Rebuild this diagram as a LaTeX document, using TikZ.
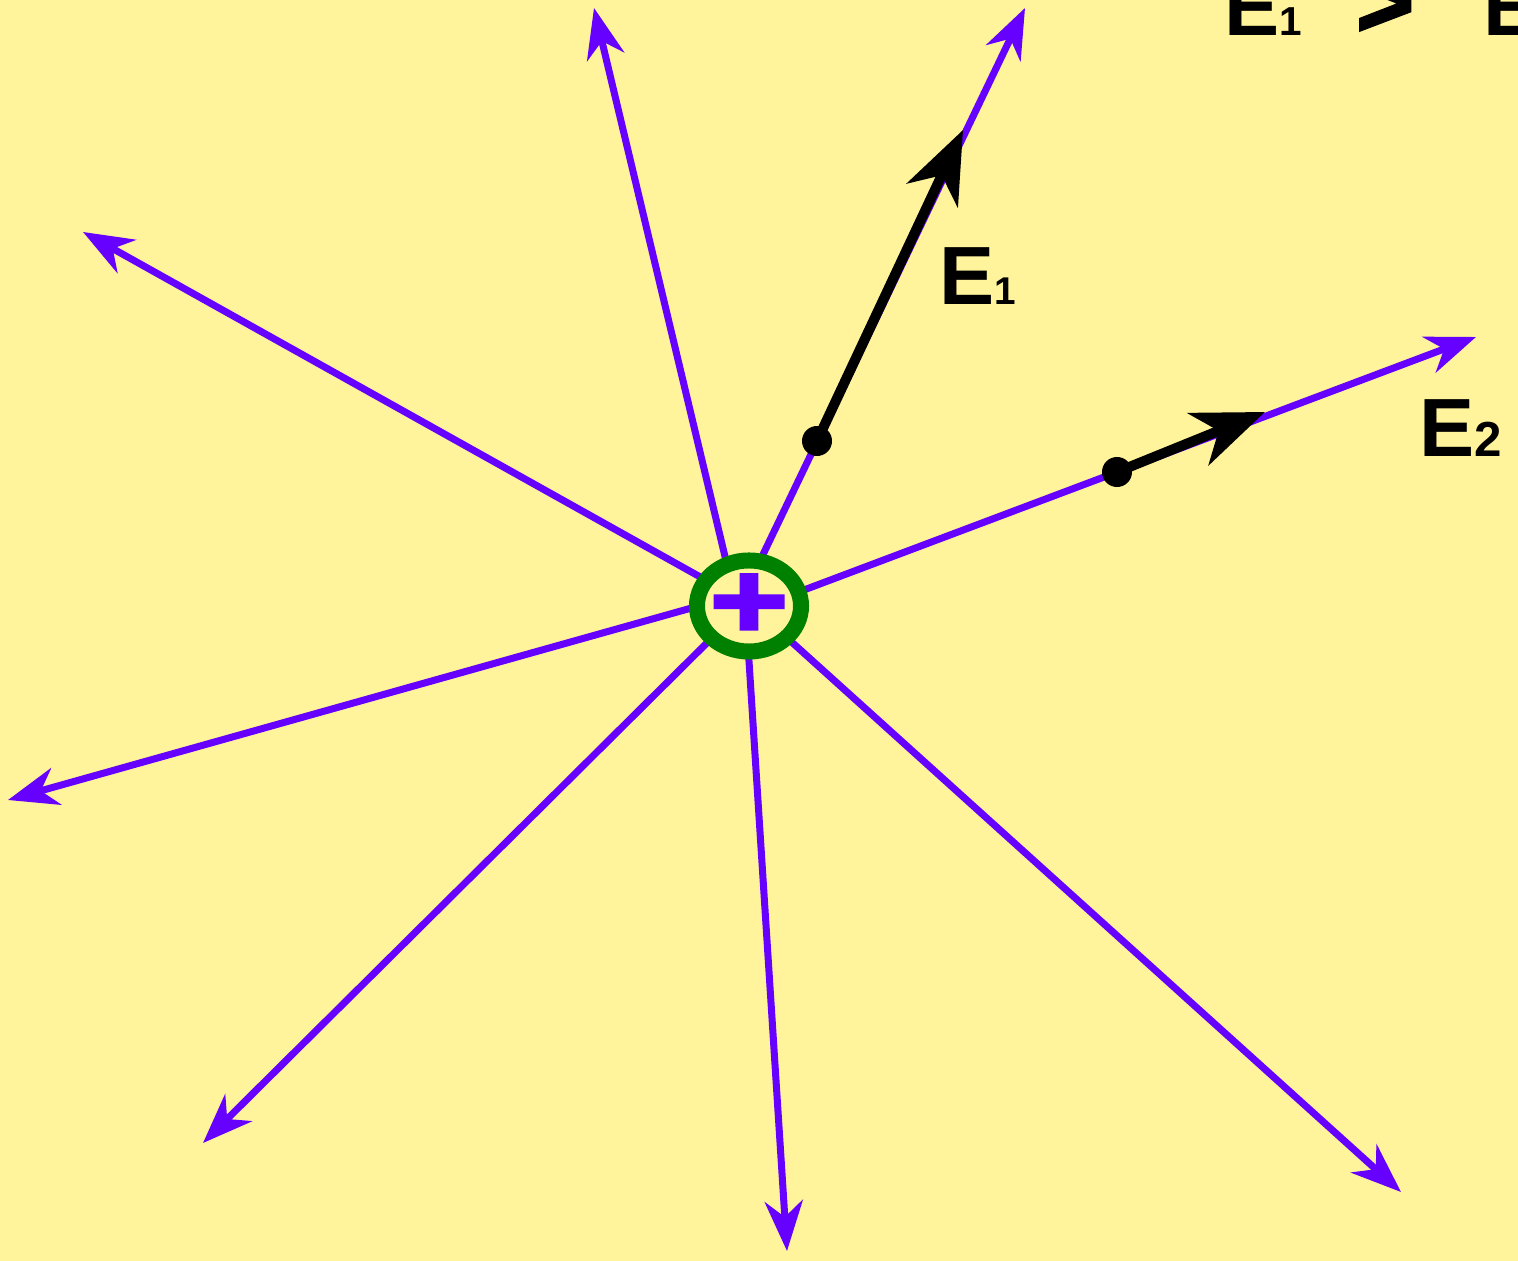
\documentclass[tikz,border=0pt]{standalone}
\usepackage{fontspec}
\setmainfont{Liberation Sans}
\newfontfamily\heavyfont{Liberation Sans Bold}[FakeBold=3]
\usetikzlibrary{arrows.meta, shapes.geometric, positioning}
\definecolor{paper}{HTML}{FFF39B}
\definecolor{fieldline}{HTML}{6600FF}
\definecolor{ringgreen}{HTML}{008000}
\newcommand{\subdigit}[2]{{\fontsize{#1}{#1}\selectfont #2}}

\begin{document}
\begin{tikzpicture}[
    x=0.01cm, y=-0.01cm,
    field/.style={draw=fieldline, line width=0.7mm,
                  -{Stealth[length=5mm, width=3.8mm, inset=1.6mm]}},
    evec/.style={draw=black, line width=1mm,
                 -{Stealth[length=7.2mm, width=5.6mm, inset=2.2mm]}},
    charge/.style={ellipse, draw=ringgreen, line width=1.6mm, fill=paper,
                   minimum width=10.4mm, minimum height=9.1mm, inner sep=0pt},
    sign/.style={text=fieldline, inner sep=0pt, yscale=0.8,
                 font=\heavyfont\fontsize{38pt}{38pt}\selectfont},
    probe/.style={circle, fill=black, inner sep=0pt, minimum size=3mm},
    lbl/.style={font=\bfseries\fontsize{23.5pt}{24pt}\selectfont,
                inner sep=0pt, anchor=base west},
]
\fill[paper] (0,0) rectangle (1518,1261);
\useasboundingbox (0,0) rectangle (1518,1261);
\clip (0,0) rectangle (1518,1261);

% field lines of the point charge
\foreach \sx/\sy/\tx/\ty in {733/590/594/8, 746/590/1025/8, 720/588/83/232,
    780/599/1476/337, 720/600/8/800, 725/625/203/1143, 747/630/787/1251,
    775/627/1401/1192}
  \draw[field] (\sx,\sy) -- (\tx,\ty);

\node[charge] (q) at (749,606) {};
\node[sign] (plus) at (q.center) {+};

\node[probe] (p1) at (817,441) {};
\node[probe] (p2) at (1117,472) {};
\coordinate (t1) at (963,130);
\coordinate (t2) at (1265,412);
\draw[evec] (p1.center) -- (t1);
\draw[evec] (p2.center) -- (t2);

\node[lbl] (e1lbl) at (939,305) {E\subdigit{11pt}{1}};
\node[lbl] (e2lbl) at (1419,457) {E\subdigit{14pt}{2}};
\node[lbl] (ineq) at (1224,36)
   {E\subdigit{11.5pt}{1}\hspace{5.4mm}{\heavyfont\fontsize{28pt}{28pt}\selectfont >}\hspace{7mm}E\subdigit{14pt}{2}};
\end{tikzpicture}
\end{document}
